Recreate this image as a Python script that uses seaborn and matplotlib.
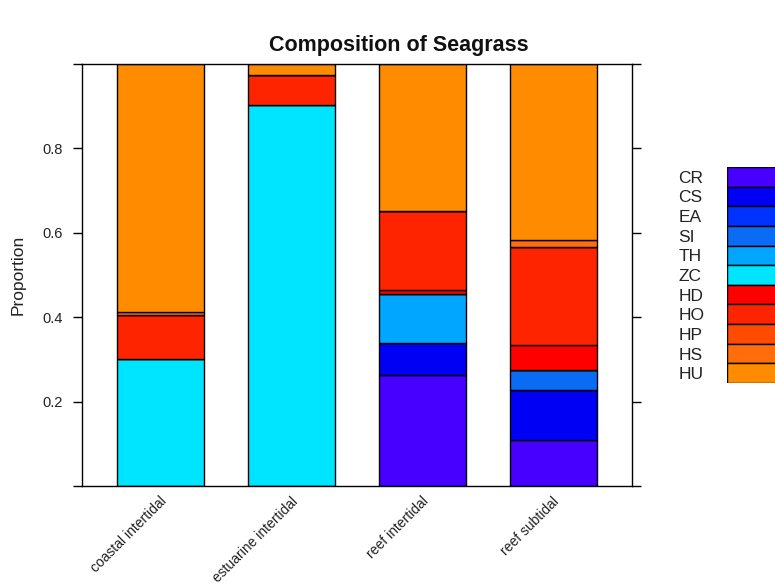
import matplotlib
matplotlib.use("Agg")
import matplotlib.pyplot as plt
import matplotlib.transforms as mtransforms
import seaborn as sns

# Sites on the x axis
sites = ["coastal intertidal", "estuarine intertidal", "reef intertidal", "reef subtidal"]

# Seagrass species, stacked bottom to top in this order
species = ["CR", "CS", "EA", "SI", "TH", "ZC", "HD", "HO", "HP", "HS", "HU"]

# Proportion of each species at each site
CR = [0.000, 0.000, 0.264, 0.109]
CS = [0.000, 0.000, 0.076, 0.119]
EA = [0.000, 0.000, 0.000, 0.000]
SI = [0.000, 0.000, 0.000, 0.046]
TH = [0.000, 0.000, 0.116, 0.000]
ZC = [0.300, 0.902, 0.000, 0.000]
HD = [0.000, 0.000, 0.008, 0.061]
HO = [0.106, 0.072, 0.187, 0.231]
HP = [0.000, 0.000, 0.000, 0.000]
HS = [0.006, 0.000, 0.000, 0.017]
HU = [0.588, 0.026, 0.349, 0.417]

species_values = [CR, CS, EA, SI, TH, ZC, HD, HO, HP, HS, HU]

colors = ["#4700FF", "#0000F5", "#0033FF", "#0A6CF5", "#00A6FF", "#00E5FF",
          "#FF0000", "#FF2400", "#FF4A00", "#FF6E0A", "#FF8C00"]

y_ticks = [0.0, 0.2, 0.4, 0.6, 0.8, 1.0]
y_tick_labels = ["", "0.2", "0.4", "0.6", "0.8", ""]

sns.set_style("white")
plt.rcParams["font.family"] = ["Liberation Sans", "DejaVu Sans"]

W, H = 775, 587
fig = plt.figure(figsize=(W / 100, H / 100), dpi=100)

# main panel
left, right, top, bottom = 82, 632, 64, 486
ax = fig.add_axes([left / W, 1 - bottom / H, (right - left) / W, (bottom - top) / H])

base = [0.0] * len(sites)
for name, vals, col in zip(species, species_values, colors):
    sns.barplot(x=sites, y=vals, bottom=base, color=col, saturation=1,
                width=0.66, edgecolor="black", linewidth=1.0,
                errorbar=None, ax=ax)
    base = [b + v for b, v in zip(base, vals)]

ax.set_xlim(-0.6, 3.6)
ax.set_ylim(0, 1)
ax.set_yticks(y_ticks)
ax.set_yticklabels(y_tick_labels)
ax.set_xlabel("")
ax.set_ylabel("")
for s in ax.spines.values():
    s.set_visible(True)
    s.set_color("black")
    s.set_linewidth(1.0)

ax.tick_params(axis="y", which="both", direction="out", length=6.5, width=1.0,
               color="black", left=True, right=True, labelleft=True,
               labelright=False, labelsize=10.5, pad=7.5, labelcolor="#222222")
ax.tick_params(axis="x", length=0, labelsize=10, pad=6, labelcolor="#222222")

offset = mtransforms.ScaledTranslation(-1 / 100, 0, fig.dpi_scale_trans)
for lab in ax.get_xticklabels():
    lab.set_rotation(45)
    lab.set_ha("right")
    lab.set_va("top")
    lab.set_rotation_mode("anchor")
    lab.set_transform(lab.get_transform() + offset)

fig.text(399 / W, 1 - 45 / H, "Composition of Seagrass", ha="center",
         va="center", fontsize=15.5, fontweight="bold", color="#111111")
fig.text(18 / W, 1 - 275 / H, "Proportion", rotation=90, ha="center",
         va="center", fontsize=12.5, color="#222222")

# key: swatches on the right with species names to their left
kx, ktop, kbot = 727, 167, 383
kax = fig.add_axes([kx / W, 1 - kbot / H, 60 / W, (kbot - ktop) / H])
sns.barplot(x=[1.0] * len(species), y=species, hue=species, palette=colors,
            saturation=1, orient="h", width=1.0, edgecolor="black",
            linewidth=1.0, legend=False, ax=kax)
kax.set_xlim(0, 1)
kax.set_ylim(len(species) - 0.5, -0.5)
kax.set_xlabel("")
kax.set_ylabel("")
kax.set_xticks([])
for s in kax.spines.values():
    s.set_visible(False)
kax.tick_params(axis="y", length=0, labelsize=12.5, pad=35, labelcolor="#222222")
for lab in kax.get_yticklabels():
    lab.set_ha("left")

fig.savefig("out.png", dpi=100)
